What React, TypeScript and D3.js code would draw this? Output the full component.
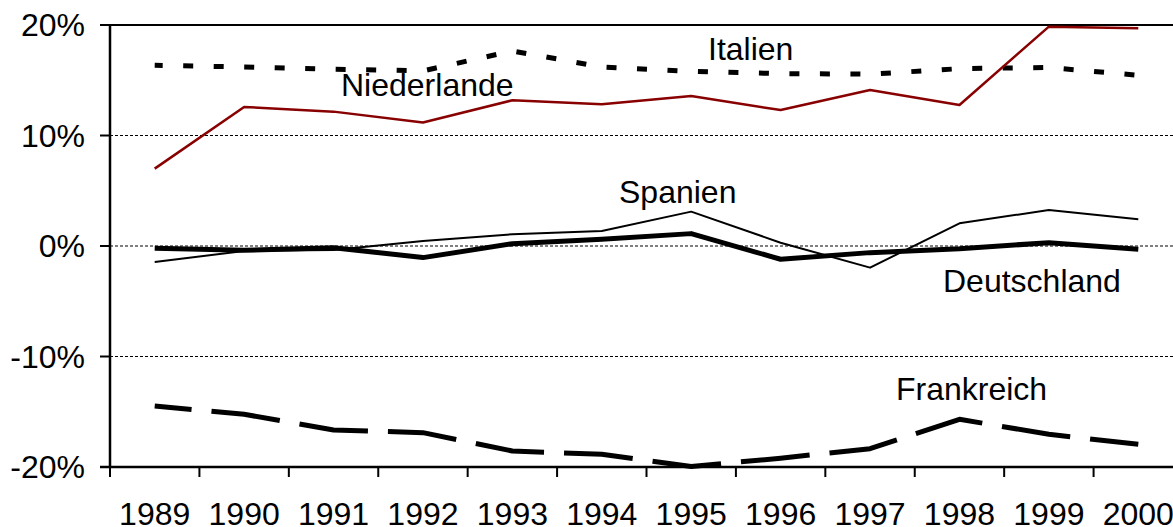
import React, { useEffect, useRef } from "react";
import * as d3 from "d3";

const years = ["1989", "1990", "1991", "1992", "1993", "1994", "1995", "1996", "1997", "1998", "1999", "2000"];
const italien = [16.35, 16.2, 16.0, 15.85, 17.65, 16.2, 15.8, 15.6, 15.55, 16.05, 16.15, 15.45];
const niederlande = [7.0, 12.58, 12.16, 11.17, 13.19, 12.82, 13.57, 12.3, 14.12, 12.76, 19.85, 19.7];
const spanien = [-1.45, -0.45, -0.36, 0.45, 1.06, 1.36, 3.11, 0.3, -1.96, 2.05, 3.26, 2.42];
const deutschland = [-0.2, -0.39, -0.15, -1.05, 0.21, 0.6, 1.12, -1.2, -0.6, -0.24, 0.3, -0.3];
const frankreich = [-14.48, -15.23, -16.65, -16.89, -18.55, -18.85, -19.95, -19.2, -18.34, -15.68, -17.04, -17.95];
const yTicks = [-20, -10, 0, 10, 20];

const W = 1173;
const H = 527;

export default function App() {
  const ref = useRef<SVGSVGElement>(null);

  useEffect(() => {
    const svg = d3.select(ref.current);
    svg.selectAll("*").remove();
    const left = 110;
    const right = 1183;
    const top = 25;
    const bottom = 467;
    const font = "Arial, 'Liberation Sans', sans-serif";

    const x = d3.scaleBand().domain(years).range([left, right]);
    const xc = (d) => x(d) + x.bandwidth() / 2;
    const y = d3.scaleLinear().domain([-20, 20]).range([bottom, top]);

    // gridlines
    svg.append("g")
      .selectAll("line")
      .data(yTicks.filter((t) => t > -20 && t < 20))
      .enter()
      .append("line")
      .attr("x1", left)
      .attr("x2", right)
      .attr("y1", (d) => y(d))
      .attr("y2", (d) => y(d))
      .attr("stroke", "#000")
      .attr("stroke-width", 1)
      .attr("stroke-dasharray", "3,2");

    // top border
    svg.append("line")
      .attr("x1", left).attr("x2", right)
      .attr("y1", y(20)).attr("y2", y(20))
      .attr("stroke", "#000").attr("stroke-width", 2);

    const series = [
      { name: "Italien", values: italien, color: "#000", width: 5, dash: "10,20.5", offset: 2 },
      { name: "Niederlande", values: niederlande, color: "#880000", width: 2.5, dash: null, offset: 0 },
      { name: "Spanien", values: spanien, color: "#000", width: 2, dash: null, offset: 0 },
      { name: "Deutschland", values: deutschland, color: "#000", width: 5, dash: null, offset: 0 },
      { name: "Frankreich", values: frankreich, color: "#000", width: 5, dash: "69,20", offset: 32 },
    ];

    const line = d3.line<number>()
      .x((d, i) => xc(years[i]))
      .y((d) => y(d));

    series.forEach((s) => {
      const p = svg.append("path")
        .datum(s.values)
        .attr("d", line)
        .attr("fill", "none")
        .attr("stroke", s.color)
        .attr("stroke-width", s.width)
        .attr("stroke-linejoin", "round");
      if (s.dash) {
        p.attr("stroke-dasharray", s.dash).attr("stroke-dashoffset", s.offset);
      }
    });

    // axes
    svg.append("line")
      .attr("x1", left).attr("x2", left)
      .attr("y1", top).attr("y2", bottom)
      .attr("stroke", "#000").attr("stroke-width", 2.5);
    svg.append("line")
      .attr("x1", left - 10).attr("x2", right)
      .attr("y1", bottom).attr("y2", bottom)
      .attr("stroke", "#000").attr("stroke-width", 2.5);

    svg.append("g")
      .selectAll("line")
      .data(yTicks)
      .enter()
      .append("line")
      .attr("x1", left - 10).attr("x2", left)
      .attr("y1", (d) => y(d)).attr("y2", (d) => y(d))
      .attr("stroke", "#000").attr("stroke-width", 2);

    svg.append("g")
      .selectAll("text")
      .data(yTicks)
      .enter()
      .append("text")
      .attr("x", 85)
      .attr("y", (d) => y(d) + 11)
      .attr("text-anchor", "end")
      .attr("font-family", font)
      .attr("font-size", 32)
      .text((d) => d + "%");

    svg.append("g")
      .selectAll("line")
      .data(years)
      .enter()
      .append("line")
      .attr("x1", (d) => x(d)).attr("x2", (d) => x(d))
      .attr("y1", bottom).attr("y2", bottom + 10)
      .attr("stroke", "#000").attr("stroke-width", 2);

    svg.append("g")
      .selectAll("text")
      .data(years)
      .enter()
      .append("text")
      .attr("x", (d) => xc(d))
      .attr("y", 525)
      .attr("text-anchor", "middle")
      .attr("font-family", font)
      .attr("font-size", 32)
      .text((d) => d);

    // series labels
    const labels = [
      { name: "Italien", x: 708, y: 60 },
      { name: "Niederlande", x: 341, y: 96 },
      { name: "Spanien", x: 619, y: 203 },
      { name: "Deutschland", x: 943, y: 292 },
      { name: "Frankreich", x: 896, y: 400 },
    ];
    svg.append("g")
      .selectAll("text")
      .data(labels)
      .enter()
      .append("text")
      .attr("x", (d) => d.x)
      .attr("y", (d) => d.y)
      .attr("font-family", font)
      .attr("font-size", 32)
      .text((d) => d.name);
  }, []);

  return (
    <svg
      ref={ref}
      width={W}
      height={H}
      style={{ position: "absolute", left: 0, top: 0, background: "#fff" }}
    />
  );
}
